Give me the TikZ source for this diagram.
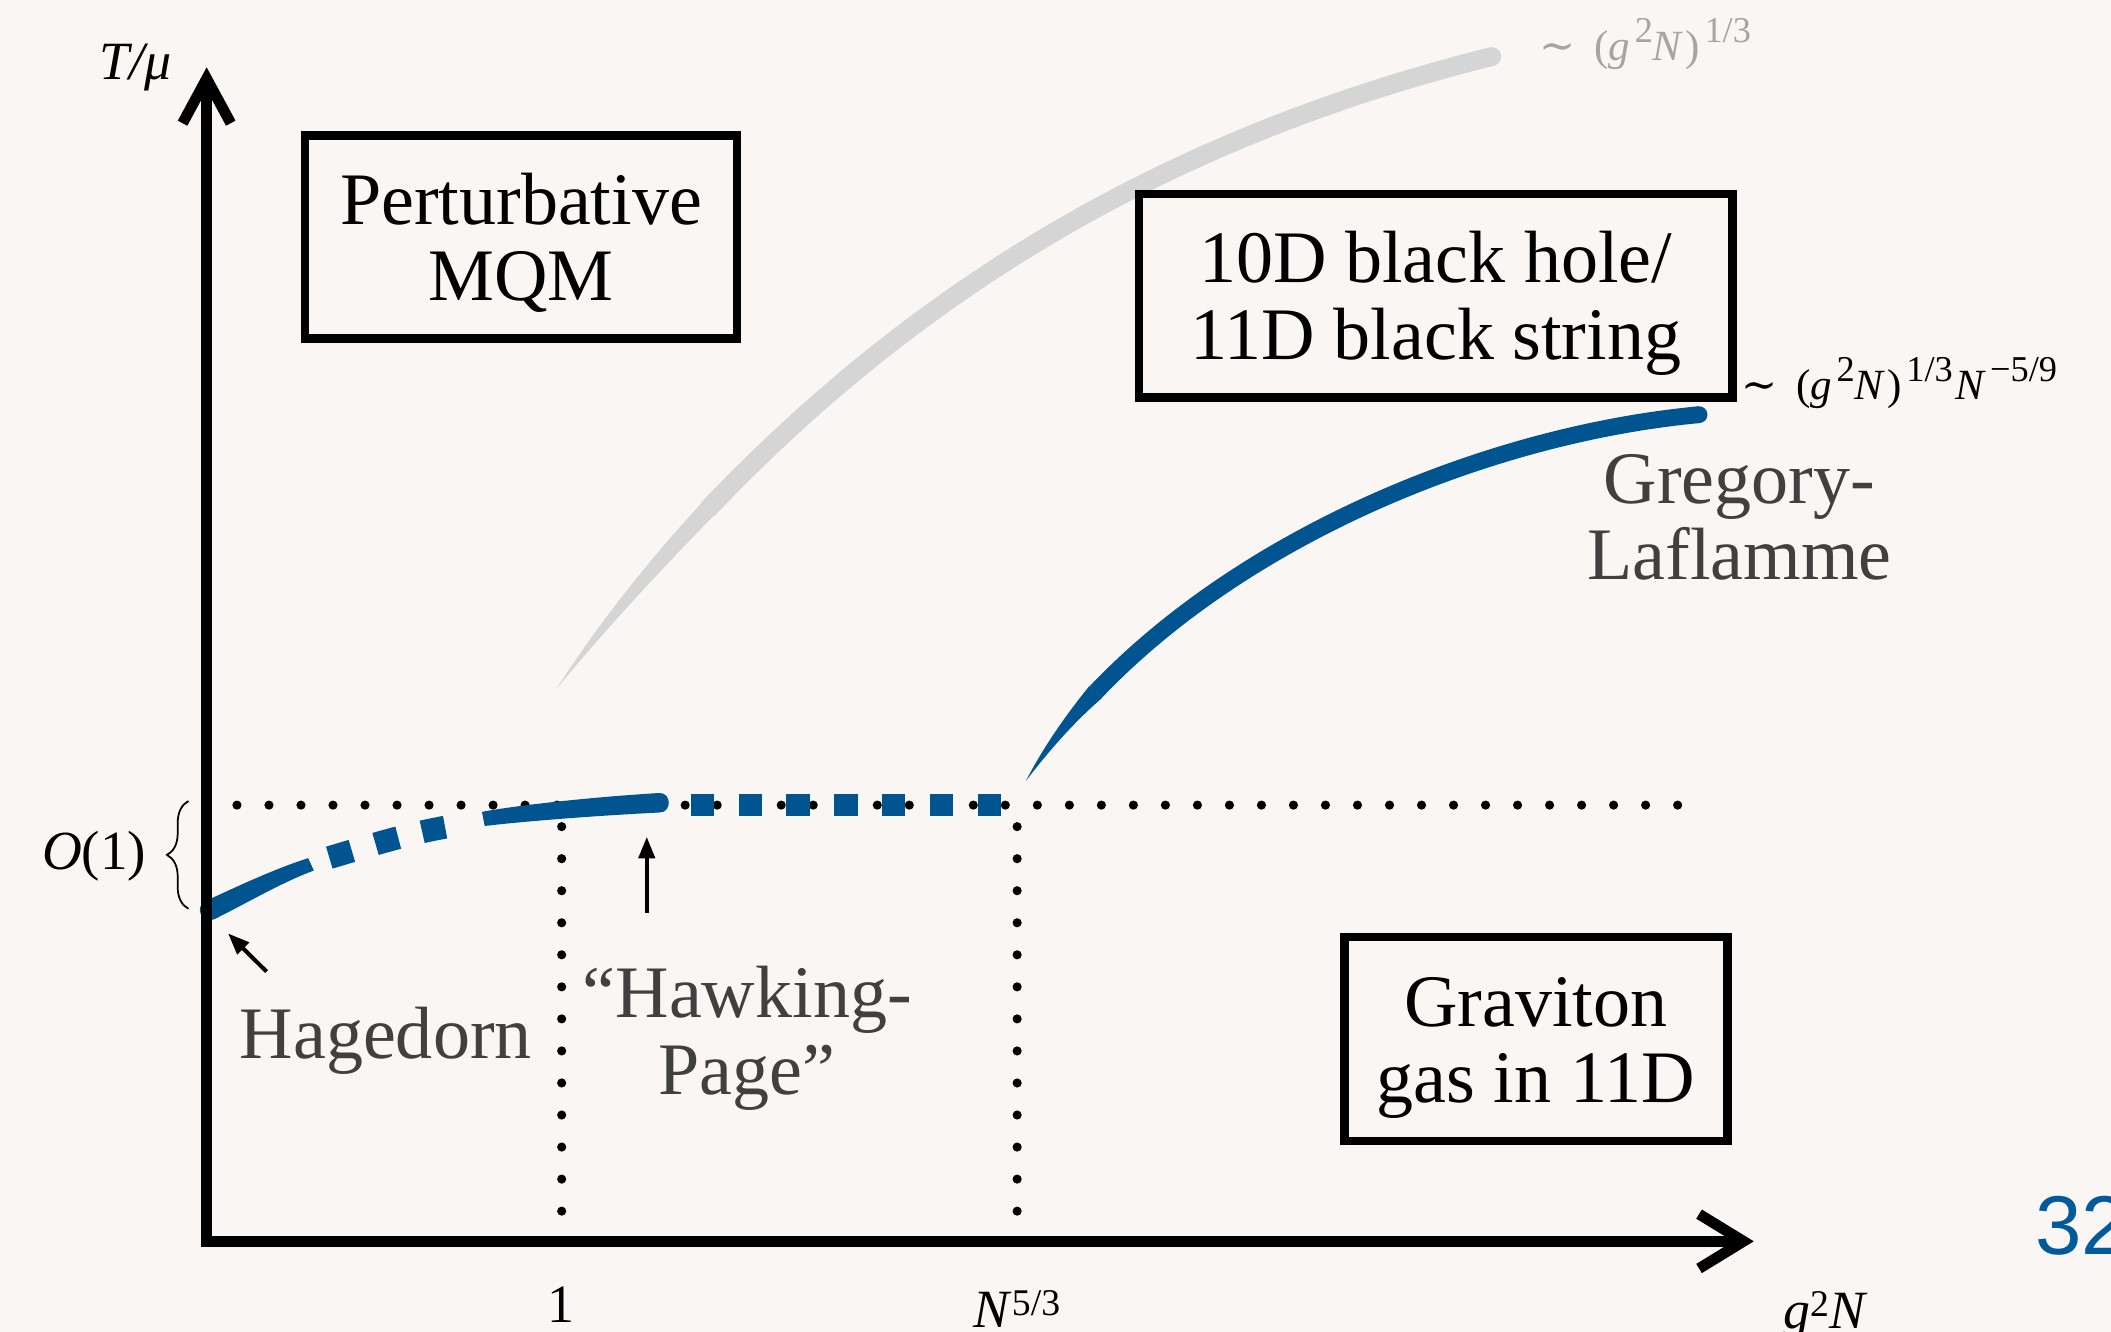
\documentclass[tikz,border=0pt]{standalone}
\usepackage{fontspec}
\setmainfont{Liberation Serif}
\newfontfamily\sansf{Liberation Sans}
\newfontfamily\dvs{DejaVu Serif}
\usetikzlibrary{arrows.meta,decorations.pathreplacing}
\definecolor{bg}{HTML}{FAF6F3}
\definecolor{bblue}{HTML}{00548F}
\definecolor{lgray}{HTML}{D5D5D5}
\definecolor{dgray}{HTML}{404040}
\definecolor{fgray}{HTML}{A5A5A5}
\definecolor{pblue}{HTML}{005A9C}
\newcommand\fsup[1]{\raisebox{0.42em}{\fontsize{27}{28}\selectfont #1}}
\tikzset{
 boxnode/.style={draw=black, line width=6.5pt, inner sep=0pt, text height=95pt, text depth=0pt, font=\fontsize{55}{57}\selectfont},
 lbl/.style={text=dgray, inner sep=0pt, anchor=base, font=\fontsize{55}{57}\selectfont},
 small/.style={inner sep=0pt, anchor=base, font=\fontsize{40}{44}\selectfont},
 formula/.style={inner sep=0pt, anchor=base west, font=\fontsize{32}{34}\selectfont},
 ptr/.style={-{Triangle[length=16pt,width=12pt]}, line width=3pt},
 axis/.style={line width=8pt, line join=miter, line cap=butt},
}
\begin{document}
\begin{tikzpicture}[x=1pt,y=-1pt]
\useasboundingbox (0,0) rectangle (1568,989);
\clip (0,0) rectangle (1568,989);
\fill[bg] (0,0) rectangle (1568,989);

% gray curve: tapered start + constant body
\fill[lgray] (413,512) .. controls (446,461) and (482.4,415.6) .. (520.9,373.9)
  -- (530.3,382.9) .. controls (490.4,423.6) and (451,466) .. (413,512) -- cycle;
\draw[lgray, line width=14pt] (525.6,378.4) .. controls (682.4,213.6) and (868,102) .. (1108,42);
\fill[lgray] (1108,42) circle (7pt);

% dotted lines
\foreach \i in {0,...,45} \fill (176+23.78*\i,598) circle (3.4pt);
\foreach \j in {0,...,12} {\fill (417.2,614+23.8*\j) circle (3.4pt); \fill (755.5,614+23.8*\j) circle (3.4pt);}

% blue: Hagedorn start
\fill[bblue] (152.9,669.2) .. controls (178,657.5) and (205,645) .. (228.9,637.4) -- (233.1,646.6)
  .. controls (208,656) and (184,670.5) .. (159.1,682.8) .. controls (150,687) and (143.8,673.3) .. (152.9,669.2) -- cycle;
\draw[bblue, line width=17pt, dash pattern=on 17.5pt off 18.3pt] (244.6,637) .. controls (275,628) and (300,620) .. (330.6,614.4);
\fill[bblue] (358,603) .. controls (385,598) and (440,592) .. (490,589)
  .. controls (499,589) and (499,603.5) .. (490,603.5) .. controls (440,606) and (390,610) .. (360,613.5) -- cycle;
\draw[bblue, line width=16pt, dash pattern=on 17.3pt off 18.25pt] (513,598) -- (743.6,598);
% Gregory-Laflamme curve: tapered start + constant body
\fill[bblue] (762,580) .. controls (775,555) and (791,532) .. (809.1,509.6)
  -- (818.5,518.5) .. controls (797,537) and (779,558) .. (762,580) -- cycle;
\draw[bblue, line width=12.5pt] (813.8,514.1) .. controls (925.2,396.9) and (1107.3,322.5) .. (1262,308);
\fill[bblue] (1262,308) circle (6.25pt);

% boxes
\node[boxnode, minimum width=321pt, minimum height=151pt] (mqm) at (387,176)
  {\begin{tabular}[b]{@{}c@{}}Perturbative\\MQM\end{tabular}};
\node[boxnode, minimum width=441pt, minimum height=151pt] (bh) at (1066.5,219.5)
  {\begin{tabular}[b]{@{}c@{}}10D black hole/\\11D black string\end{tabular}};
\node[boxnode, minimum width=284.5pt, minimum height=151.5pt] (gg) at (1140.75,771.75)
  {\begin{tabular}[b]{@{}c@{}}Graviton\\gas in 11D\end{tabular}};

% labels
\node[lbl] (hag) at (286.5,786) {Hagedorn};
\node[lbl] (hp) at (555,756) {\begin{tabular}[t]{@{}c@{}}“Hawking-\\Page”\end{tabular}};
\node[lbl] (gl) at (1292,373.8) {\begin{tabular}[t]{@{}c@{}}Gregory-\\Laflamme\end{tabular}};

\node[small] (ty) at (100.5,59.4) {\textit{T/μ}};
\node[small] (one) at (417,982) {1};
\node[small] (n53) at (755.5,986) {\textit{N}\textsuperscript{5/3}};
\node[small] (g2n) at (1356,987) {\textit{g}\textsuperscript{2}\textit{N}};
\node[small, font=\fontsize{41}{44}\selectfont] (o1) at (70,645.5) {\textit{O}(1)};

\node[formula, text=fgray] (s1) at (1143,45) {{\dvs ∼}\hspace{0.45em}(\textit{g}\kern0.1em\fsup{2}\textit{N}\kern0.05em)\kern0.1em\fsup{1/3}};
\node[formula] (s2) at (1293,297) {{\dvs ∼}\hspace{0.45em}(\textit{g}\kern0.1em\fsup{2}\textit{N}\kern0.05em)\kern0.1em\fsup{1/3}\kern0.05em\textit{N}\kern0.1em\fsup{−5/9}};

\node[inner sep=0pt, anchor=base west, text=pblue, font=\sansf\fontsize{62}{66}\selectfont] (pg) at (1511.5,932) {32};

% brace
\draw[decorate, decoration={brace, amplitude=16pt}, line width=1.3pt] (140,675) -- (140,595);

% pointer arrows
\coordinate (hagtail) at (198,721.7);
\coordinate (hagtip) at (169.4,693.3);
\coordinate (hptail) at (480.4,677.8);
\coordinate (hptip) at (480.4,621.6);
\draw[ptr] (hagtail) -- (hagtip);
\draw[ptr] (hptail) -- (hptip);

% axes
\draw[axis] (153.5,58.4) -- (153.5,922) -- (1295,922);
\draw[axis] (135.6,91.5) -- (153.5,58.4) -- (171.4,91.5);
\draw[axis] (1262,901.8) -- (1295,922) -- (1262,942.2);
\end{tikzpicture}
\end{document}
